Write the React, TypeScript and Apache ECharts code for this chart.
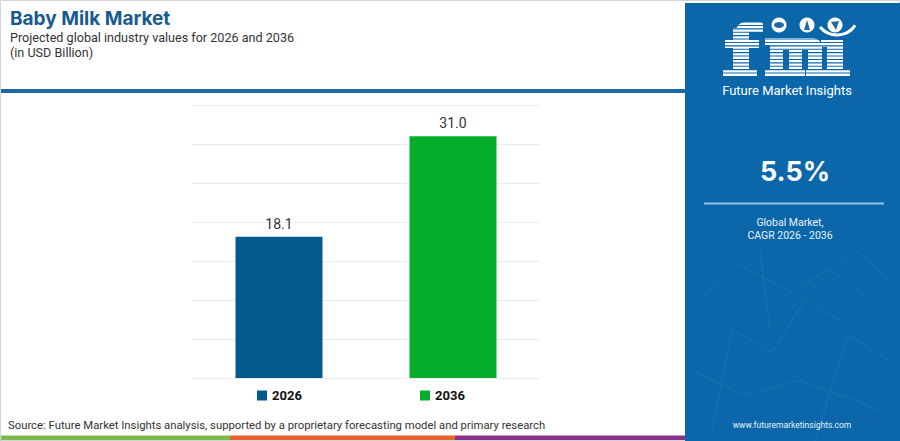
import React, { useEffect, useRef } from "react";
import * as echarts from "echarts";

const categories = ["2026", "2036"];
const values = [18.1, 31.0];
const barColors = ["#03598e", "#06ac2b"];
const yMin = 0;
const yMax = 35;
const yInterval = 5;
const titleText = "Baby Milk Market";
const subtitleLines = ["Projected global industry values for 2026 and 2036", "(in USD Billion)"];
const sourceText = "Source: Future Market Insights analysis, supported by a proprietary forecasting model and primary research";
const cagrValue = "5.5%";
const cagrLines = ["Global Market,", "CAGR 2026 - 2036"];
const brandName = "Future Market Insights";
const website = "www.futuremarketinsights.com";

const FONT = "Roboto, 'Noto Sans', sans-serif";
const TITLE_FONT = "Inter, Roboto, sans-serif";
const PANEL = "#0b67a9";

export default function App() {
  const ref = useRef<HTMLDivElement>(null);
  useEffect(() => {
    if (!ref.current) return;
    const chart = echarts.init(ref.current, undefined, { renderer: "svg" });

    const stripes: any[] = [];
    for (let y = 21.5; y < 78; y += 3.4) {
      stripes.push({ type: "rect", shape: { x: 712, y, width: 150, height: 1.1 }, style: { fill: PANEL }, z: 12 });
    }
    const net = [
      [[700, 300], [735, 262], [790, 292], [858, 252], [895, 285]],
      [[712, 430], [732, 330], [772, 352], [805, 300], [840, 320]],
      [[815, 441], [848, 335], [892, 362]],
      [[690, 370], [745, 395], [800, 380], [880, 410]],
      [[760, 250], [770, 330], [830, 270], [870, 300]],
    ];
    // logo letter blocks (f, m, i) drawn as white slabs
    const logoRects: [number, number, number, number, number[]?][] = [
      // f
      [736, 22, 27, 10, [9, 3, 0, 0]],
      [733, 28, 16, 46],
      [725, 40, 34, 8],
      [723, 70, 34, 7],
      // m
      [765, 38, 10, 7],
      [770, 38, 52, 12, [4, 9, 0, 0]],
      [770, 44, 13, 30],
      [789, 44, 13, 30],
      [808, 44, 14, 30],
      [765, 70, 22, 7],
      [787, 70, 18, 7],
      [806, 70, 20, 7],
      // i (dotless)
      [821, 40, 14, 7],
      [827, 40, 16, 34],
      [820, 70, 30, 7],
    ];

    chart.setOption({
      animation: false,
      textStyle: { fontFamily: FONT },
      grid: { left: 192, right: 360, top: 105, bottom: 63 },
      xAxis: {
        type: "category",
        data: categories,
        axisLine: { show: false },
        axisTick: { show: false },
        axisLabel: { show: false },
      },
      yAxis: {
        type: "value",
        min: yMin,
        max: yMax,
        interval: yInterval,
        axisLine: { show: false },
        axisTick: { show: false },
        axisLabel: { show: false },
        splitLine: { lineStyle: { color: "#ececec", width: 1 } },
      },
      legend: categories.map((c, i) => ({
        data: [c],
        left: i === 0 ? 257 : 420,
        top: 389,
        padding: 0,
        icon: "rect",
        itemWidth: 10,
        itemHeight: 10,
        itemGap: 4,
        textStyle: { fontFamily: FONT, fontWeight: "bold", fontSize: 13, color: "#111" },
      })),
      series: categories.map((c, i) => ({
        name: c,
        type: "bar",
        data: values.map((v, j) => (j === i ? v : "-")),
        barWidth: "50%",
        barGap: "-100%",
        itemStyle: { color: barColors[i] },
        label: {
          show: true,
          position: "top",
          distance: 6,
          formatter: (p: any) => Number(p.value).toFixed(1),
          color: "#333",
          fontSize: 14,
          fontFamily: FONT,
        },
      })),
      graphic: [
        { type: "rect", shape: { x: 0.5, y: 0.5, width: 899, height: 440 }, style: { fill: "none", stroke: "#d4d4d4", lineWidth: 1 }, z: 1 },
        { type: "text", x: 10, y: 18.5, style: { text: titleText, font: `bold 19px ${TITLE_FONT}`, fill: "#175a8f", verticalAlign: "middle" } },
        { type: "text", x: 10, y: 37.5, style: { text: subtitleLines[0], font: `12.6px ${FONT}`, fill: "#333", verticalAlign: "middle" } },
        { type: "text", x: 10, y: 52.5, style: { text: subtitleLines[1], font: `12.6px ${FONT}`, fill: "#333", verticalAlign: "middle" } },
        { type: "rect", shape: { x: 0, y: 89, width: 686, height: 4 }, style: { fill: "#1e69a6" } },
        { type: "text", x: 8, y: 425, style: { text: sourceText, font: `11.3px ${FONT}`, fill: "#333", verticalAlign: "middle" } },
        { type: "rect", shape: { x: 0, y: 435.5, width: 230, height: 5.5 }, style: { fill: "#7dba47" } },
        { type: "rect", shape: { x: 230, y: 435.5, width: 225, height: 5.5 }, style: { fill: "#e8622c" } },
        { type: "rect", shape: { x: 455, y: 435.5, width: 230, height: 5.5 }, style: { fill: "#8c2e8c" } },
        { type: "rect", shape: { x: 685, y: 3, width: 215, height: 438 }, style: { fill: PANEL }, z: 10 },
        ...net.map((pts) => ({ type: "polyline", shape: { points: pts }, style: { stroke: "rgba(255,255,255,0.07)", lineWidth: 1, fill: "none" }, z: 11 })),
        ...logoRects.map(([x, y, w, h, r]) => ({ type: "rect", shape: { x, y, width: w, height: h, r: r || 0 }, style: { fill: "#fff" }, z: 11 })),
        ...stripes,
        { type: "circle", shape: { cx: 779, cy: 25, r: 7.5 }, style: { fill: "#fff" }, z: 13 },
        { type: "circle", shape: { cx: 807, cy: 25, r: 7.5 }, style: { fill: "#fff" }, z: 13 },
        { type: "circle", shape: { cx: 835, cy: 25, r: 7.5 }, style: { fill: "#fff" }, z: 13 },
        { type: "ellipse", shape: { cx: 779, cy: 25, rx: 5, ry: 3 }, style: { fill: "#1d6aa5" }, z: 14 },
        { type: "polygon", shape: { points: [[804, 30], [807, 20], [810, 30]] }, style: { fill: "#1d6aa5" }, z: 14 },
        { type: "polygon", shape: { points: [[831, 22], [839, 21], [836, 30]] }, style: { fill: "#1d6aa5" }, z: 14 },
        { type: "arc", shape: { cx: 837, cy: 13, r: 22, startAngle: 0.6, endAngle: 2.45, clockwise: true }, style: { stroke: "#fff", lineWidth: 3, fill: "none" }, z: 13 },
        { type: "text", x: 787, y: 90, style: { text: brandName, font: `13px Roboto`, fill: "#fff", align: "center", verticalAlign: "middle" }, z: 13 },
        { type: "text", x: 795, y: 171, style: { text: cagrValue, font: `bold 27px ${TITLE_FONT}`, fill: "#fff", align: "center", verticalAlign: "middle" }, z: 13 },
        { type: "rect", shape: { x: 704, y: 202.5, width: 180, height: 2 }, style: { fill: "#8fc3ea" }, z: 13 },
        { type: "text", x: 790, y: 222, style: { text: cagrLines[0], font: `10.5px ${FONT}`, fill: "#e8f1f8", align: "center", verticalAlign: "middle" }, z: 13 },
        { type: "text", x: 790, y: 235.5, style: { text: cagrLines[1], font: `10.5px ${FONT}`, fill: "#e8f1f8", align: "center", verticalAlign: "middle" }, z: 13 },
        { type: "text", x: 792, y: 425, style: { text: website, font: `8.5px ${FONT}`, fill: "#e8f1f8", align: "center", verticalAlign: "middle" }, z: 13 },
      ],
    });
    return () => chart.dispose();
  }, []);
  return <div ref={ref} style={{ position: "fixed", left: 0, top: 0, width: 900, height: 441, background: "#fff" }} />;
}
